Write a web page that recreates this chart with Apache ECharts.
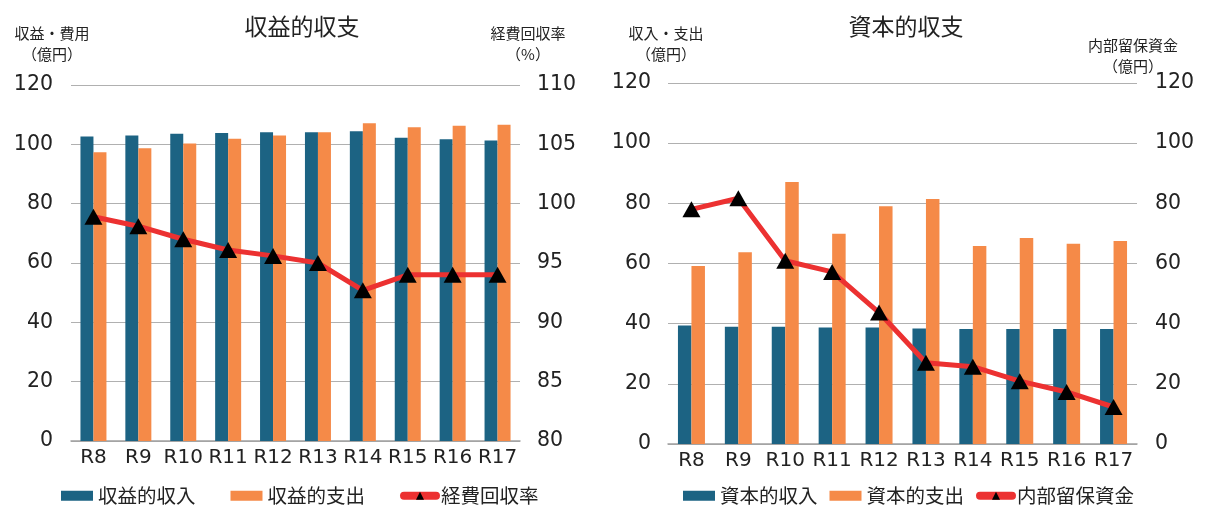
<!DOCTYPE html>
<html>
<head>
<meta charset="utf-8">
<style>
  html, body { margin: 0; padding: 0; background: #fff; }
  #chart { width: 1207px; height: 509px; }
</style>
<script src="https://cdn.jsdelivr.net/npm/echarts@6/dist/echarts.min.js"></script>
</head>
<body>
<div id="chart"></div>
<script>
// 年度
const years = ['R8', 'R9', 'R10', 'R11', 'R12', 'R13', 'R14', 'R15', 'R16', 'R17']

// 収益的収支（億円 / %）
const revIncome = [102.6, 103.0, 103.6, 103.8, 104.1, 104.1, 104.4, 102.2, 101.7, 101.3]
const revExpense = [97.3, 98.7, 100.3, 101.9, 103.0, 104.1, 107.1, 105.8, 106.3, 106.6]
const recoveryRate = [98.9, 98.1, 97.0, 96.1, 95.6, 95.0, 92.7, 94.0, 94.0, 94.0]

// 資本的収支（億円）
const capIncome = [39.4, 39.0, 39.0, 38.7, 38.7, 38.4, 38.2, 38.2, 38.2, 38.2]
const capExpense = [59.2, 63.7, 87.1, 69.9, 79.0, 81.4, 65.8, 68.5, 66.6, 67.5]
const reserveFund = [78.0, 81.7, 60.9, 57.2, 43.7, 27.0, 25.7, 20.9, 17.3, 12.3]

const FONT = '"Noto Sans CJK JP", "Noto Sans", sans-serif'
const NUM_FONT = '"DejaVu Sans", sans-serif'
const BLUE = '#1c6383'
const ORANGE = '#f58a48'
const RED = '#ec3131'
const TXT = '#222'

const chart = echarts.init(document.getElementById('chart'), null, { renderer: 'canvas' })

function titleText (text, left, top, size) {
  return {
    text: text,
    left: left,
    top: top,
    textAlign: 'center',
    textStyle: { fontFamily: FONT, fontSize: size, fontWeight: 'normal', color: TXT, lineHeight: size + 6 }
  }
}

function valueAxis (gridIndex, position, min, max, interval, showSplit, margin) {
  return {
    type: 'value',
    gridIndex: gridIndex,
    position: position,
    min: min,
    max: max,
    interval: interval,
    axisLine: { show: false },
    axisTick: { show: false },
    axisLabel: { fontFamily: NUM_FONT, fontSize: 20.5, color: TXT, margin: margin },
    splitLine: { show: showSplit, lineStyle: { color: '#b0b0b0', width: 1 } }
  }
}

function catAxis (gridIndex) {
  return {
    type: 'category',
    gridIndex: gridIndex,
    data: years,
    axisLine: { lineStyle: { color: '#a0a0a0', width: 1.5 } },
    axisTick: { show: false },
    axisLabel: { fontFamily: NUM_FONT, fontSize: 20, color: TXT, margin: 7, interval: 0, hideOverlap: false }
  }
}

function barSeries (name, data, color, xi, yi, width) {
  return {
    name: name,
    type: 'bar',
    xAxisIndex: xi,
    yAxisIndex: yi,
    data: data,
    barWidth: width,
    barGap: '0%',
    itemStyle: { color: color }
  }
}

function lineSeries (name, data, xi, yi) {
  return {
    name: name,
    type: 'line',
    xAxisIndex: xi,
    yAxisIndex: yi,
    data: data,
    symbol: 'triangle',
    symbolSize: [18, 16],
    itemStyle: { color: '#000' },
    lineStyle: { color: RED, width: 5 },
    z: 5
  }
}

function legendOf (left, gap, size, names) {
  return {
    left: left,
    top: 486,
    padding: 0,
    itemWidth: 32,
    itemHeight: 10,
    itemGap: gap,
    textStyle: { fontFamily: FONT, fontSize: size, color: TXT },
    data: [
      { name: names[0], icon: 'rect' },
      { name: names[1], icon: 'rect' },
      { name: names[2], lineStyle: { width: 8, cap: 'round' } }
    ]
  }
}

const option = {
  animation: false,
  backgroundColor: '#fff',
  title: [
    titleText('収益的収支', 297, 7, 23),
    titleText('収益・費用\n（億円）', 47, 18, 15),
    titleText('経費回収率\n（%）', 523, 18, 15),
    titleText('資本的収支', 901, 7, 23),
    titleText('収入・支出\n（億円）', 661, 18, 15),
    titleText('内部留保資金\n（億円）', 1128, 30, 15)
  ],
  grid: [
    { left: 71, top: 85, width: 449, height: 356 },
    { left: 668, top: 83, width: 469, height: 361 }
  ],
  xAxis: [catAxis(0), catAxis(1)],
  yAxis: [
    valueAxis(0, 'left', 0, 120, 20, true, 18),
    valueAxis(0, 'right', 80, 110, 5, false, 17),
    valueAxis(1, 'left', 0, 120, 20, true, 17),
    valueAxis(1, 'right', 0, 120, 20, false, 18)
  ],
  legend: [
    legendOf(61, 35, 19.5, ['収益的収入', '収益的支出', '経費回収率']),
    legendOf(683, 12, 19.5, ['資本的収入', '資本的支出', '内部留保資金'])
  ],
  series: [
    barSeries('収益的収入', revIncome, BLUE, 0, 0, 13),
    barSeries('収益的支出', revExpense, ORANGE, 0, 0, 13),
    lineSeries('経費回収率', recoveryRate, 0, 1),
    barSeries('資本的収入', capIncome, BLUE, 1, 2, 13.5),
    barSeries('資本的支出', capExpense, ORANGE, 1, 2, 13.5),
    lineSeries('内部留保資金', reserveFund, 1, 3)
  ]
}

chart.setOption(option)
</script>
</body>
</html>
